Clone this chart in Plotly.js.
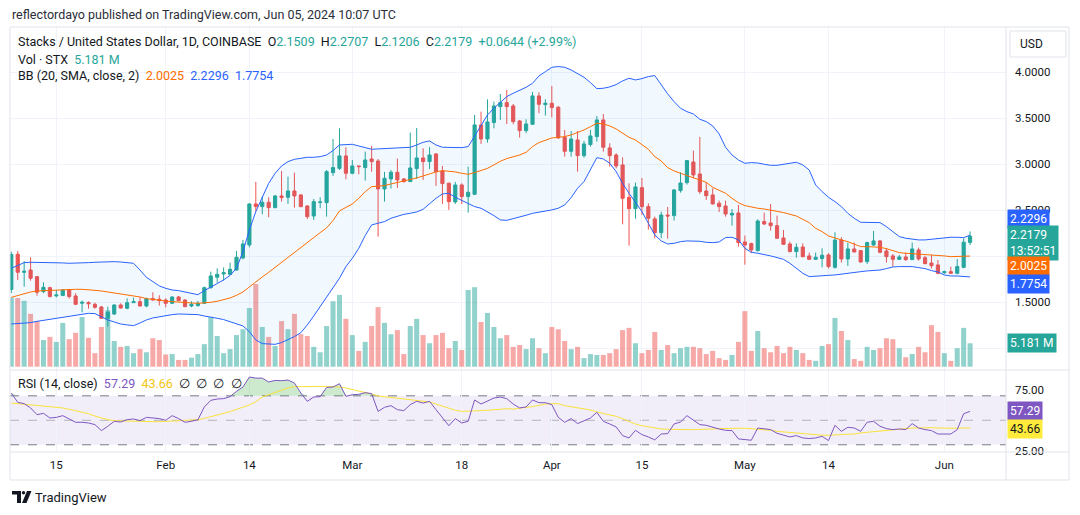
<!DOCTYPE html>
<html><head><meta charset="utf-8">
<script src="https://cdn.plot.ly/plotly-3.0.1.min.js"></script>
<style>html,body{margin:0;padding:0;background:#fff;}#chart{width:1080px;height:515px;}</style>
</head><body><div id="chart"></div>
<script>
// ---------- DATA ----------
const startDate = '2024-01-08';
const open = [1.64,2.022,1.826,1.851,1.779,1.616,1.659,1.570,1.573,1.634,
1.569,1.490,1.497,1.478,1.449,1.326,1.373,1.471,1.435,1.496,
1.507,1.460,1.540,1.533,1.525,1.489,1.558,1.525,1.460,1.464,
1.489,1.659,1.772,1.808,1.804,1.851,1.982,2.123,2.569,2.540,
2.587,2.529,2.656,2.641,2.710,2.667,2.547,2.438,2.587,2.583,
2.909,2.956,3.091,2.902,2.982,2.964,3.058,3.036,2.732,2.841,
2.913,2.841,2.812,2.953,3.069,3.029,3.112,2.928,2.794,2.591,
2.775,2.649,2.674,3.428,3.275,3.453,3.627,3.670,3.634,3.471,
3.366,3.435,3.743,3.649,3.663,3.620,3.293,3.141,3.264,3.094,
3.214,3.301,3.482,3.178,3.101,2.993,2.641,2.518,2.746,2.540,
2.406,2.257,2.449,2.442,2.714,2.801,3.025,2.895,2.710,2.667,
2.576,2.547,2.449,2.471,2.156,2.138,2.062,2.377,2.362,2.333,
2.199,2.134,2.051,2.101,2.004,1.967,1.975,2.015,1.880,2.177,
1.971,2.080,2.062,1.942,2.123,2.167,2.058,2.004,1.967,1.993,
1.964,2.069,1.985,1.927,1.906,1.822,1.833,1.815,1.880,2.1509];
const high = [2.05,2.058,1.949,1.989,1.786,1.717,1.670,1.634,1.641,1.641,
1.598,1.518,1.511,1.496,1.460,1.453,1.478,1.489,1.543,1.551,
1.554,1.551,1.609,1.576,1.543,1.565,1.569,1.533,1.511,1.515,
1.670,1.833,1.869,1.880,1.931,2.058,2.178,2.576,2.808,2.649,
2.641,2.667,2.928,2.866,2.909,2.674,2.554,2.623,2.641,2.938,
3.275,3.391,3.185,3.047,2.982,3.138,3.199,3.058,2.917,2.938,
3.062,2.851,3.344,3.395,3.174,3.188,3.123,2.982,2.801,2.808,
2.793,2.975,3.536,3.572,3.706,3.681,3.764,3.808,3.656,3.482,
3.489,3.786,3.783,3.707,3.851,3.634,3.373,3.362,3.362,3.254,
3.373,3.525,3.547,3.228,3.120,3.076,2.793,2.801,2.851,2.576,
2.431,2.485,2.536,2.732,2.913,3.047,3.149,3.297,2.801,2.739,
2.605,2.605,2.514,2.558,2.225,2.149,2.402,2.475,2.569,2.442,
2.286,2.159,2.141,2.141,2.040,2.040,2.087,2.033,2.261,2.207,
2.149,2.149,2.069,2.159,2.275,2.178,2.087,2.025,2.015,2.040,
2.149,2.094,2.004,2.015,1.960,1.844,1.888,1.971,2.196,2.2707];
const low = [1.60,1.743,1.670,1.735,1.572,1.598,1.554,1.554,1.569,1.540,
1.471,1.391,1.431,1.431,1.319,1.236,1.362,1.431,1.424,1.496,
1.453,1.446,1.518,1.464,1.446,1.482,1.511,1.446,1.446,1.453,
1.482,1.648,1.714,1.735,1.797,1.844,1.967,2.098,2.486,2.457,
2.424,2.522,2.594,2.569,2.529,2.533,2.406,2.395,2.522,2.431,
2.873,2.938,2.837,2.891,2.891,2.822,2.920,2.214,2.594,2.736,
2.743,2.801,2.808,2.841,2.830,2.949,2.765,2.569,2.504,2.569,
2.569,2.475,2.667,3.221,3.235,3.391,3.482,3.438,3.435,3.290,
3.337,3.428,3.554,3.529,3.511,3.279,3.083,3.083,2.920,3.072,
3.192,3.246,3.138,2.975,2.956,2.348,2.116,2.409,2.449,2.290,
2.196,2.196,2.192,2.388,2.692,2.779,2.848,2.678,2.612,2.562,
2.482,2.431,2.333,2.105,1.909,2.033,2.051,2.341,2.279,2.188,
2.123,2.043,1.985,1.989,1.960,1.960,1.880,1.869,1.866,1.931,
1.895,2.043,1.931,1.917,2.112,2.033,1.931,1.888,1.960,1.949,
1.960,1.953,1.913,1.869,1.804,1.808,1.808,1.804,1.870,2.1206];
const close = [2.02,1.826,1.837,1.761,1.609,1.663,1.562,1.580,1.634,1.562,
1.478,1.500,1.484,1.446,1.326,1.391,1.471,1.438,1.496,1.507,
1.460,1.540,1.525,1.518,1.489,1.558,1.518,1.453,1.478,1.489,
1.659,1.786,1.804,1.822,1.859,1.989,2.134,2.569,2.540,2.587,
2.529,2.656,2.638,2.710,2.656,2.540,2.431,2.594,2.590,2.920,
2.964,3.091,2.902,2.982,2.975,3.047,3.029,2.732,2.848,2.913,
2.830,2.812,2.960,3.069,3.029,3.101,2.920,2.790,2.594,2.775,
2.649,2.696,3.428,3.275,3.460,3.634,3.670,3.627,3.464,3.366,
3.438,3.743,3.652,3.663,3.616,3.286,3.141,3.275,3.094,3.221,
3.308,3.482,3.185,3.094,2.982,2.630,2.518,2.754,2.540,2.413,
2.257,2.449,2.438,2.721,2.797,3.040,2.884,2.703,2.659,2.569,
2.540,2.460,2.467,2.149,2.123,2.069,2.384,2.351,2.333,2.196,
2.130,2.051,2.098,1.996,1.967,1.989,2.011,1.888,2.177,1.971,
2.080,2.047,1.938,2.149,2.167,2.043,1.996,1.967,1.993,1.964,
2.080,1.971,1.920,1.898,1.815,1.833,1.815,1.888,2.1535,2.2179];
const volumeM = [15.3,15.2,14.6,11.7,10.1,5.9,6.6,5.5,9.7,6.1,
7.5,11.0,6.4,3.0,8.8,12.5,5.7,4.4,4.6,3.0,
3.9,3.2,6.3,5.9,2.7,2.8,1.5,1.5,2.0,2.8,
5.0,11.0,6.8,3.0,3.9,7.0,8.3,13.0,18.3,8.8,
6.6,4.6,10.1,8.3,11.7,7.2,6.8,4.4,3.2,9.0,
14.5,15.9,10.6,7.0,3.5,5.5,9.0,13.2,9.7,7.2,
8.1,2.8,9.0,10.6,7.0,5.2,7.0,7.5,4.1,5.7,
3.7,17.0,17.6,9.9,11.9,8.8,6.3,7.0,4.4,4.8,
3.9,6.3,4.1,3.0,8.8,8.3,5.7,3.9,4.4,1.9,
2.8,2.6,2.6,3.0,3.9,8.1,8.6,5.2,3.0,3.7,
7.7,3.7,4.8,3.0,4.1,4.4,4.4,4.1,2.8,3.5,
1.9,1.5,2.6,5.5,12.3,3.5,7.9,4.1,3.2,4.6,
3.0,4.4,3.7,3.0,1.5,1.3,4.6,5.0,10.8,7.9,
5.9,1.7,1.3,4.4,3.7,4.1,6.3,6.1,4.1,2.1,
2.8,4.4,3.2,9.2,7.7,3.0,1.3,4.1,8.6,5.181];
const bbUpper = [1.870,1.898,1.931,1.935,1.935,1.935,1.931,1.928,1.928,1.924,
1.924,1.928,1.931,1.935,1.938,1.942,1.942,1.938,1.935,1.924,
1.851,1.772,1.725,1.678,1.652,1.634,1.627,1.612,1.598,1.583,
1.627,1.663,1.703,1.743,1.793,1.870,2.051,2.286,2.486,2.649,
2.793,2.902,2.982,3.029,3.054,3.065,3.076,3.076,3.083,3.101,
3.149,3.210,3.214,3.217,3.199,3.178,3.163,3.167,3.170,3.174,
3.178,3.181,3.185,3.210,3.239,3.254,3.210,3.185,3.181,3.181,
3.181,3.192,3.308,3.428,3.536,3.609,3.674,3.736,3.772,3.801,
3.837,3.880,3.960,4.007,4.054,4.062,4.054,4.025,3.982,3.946,
3.888,3.822,3.826,3.841,3.866,3.906,3.935,3.917,3.931,3.953,
3.964,3.862,3.765,3.681,3.609,3.572,3.547,3.489,3.464,3.417,
3.330,3.185,3.101,3.047,3.011,3.018,3.014,3.000,2.989,2.989,
2.996,3.011,3.022,2.993,2.938,2.775,2.703,2.641,2.594,2.540,
2.467,2.413,2.370,2.370,2.370,2.366,2.322,2.268,2.214,2.196,
2.185,2.178,2.178,2.185,2.196,2.203,2.207,2.207,2.203,2.2296];
const bbBasis = [1.554,1.576,1.598,1.612,1.623,1.627,1.630,1.634,1.638,1.638,
1.641,1.641,1.638,1.630,1.623,1.612,1.601,1.591,1.583,1.572,
1.558,1.540,1.529,1.522,1.514,1.507,1.500,1.496,1.493,1.489,
1.493,1.500,1.511,1.525,1.547,1.576,1.612,1.667,1.725,1.775,
1.826,1.880,1.935,1.996,2.047,2.094,2.149,2.203,2.257,2.308,
2.388,2.493,2.533,2.569,2.630,2.703,2.757,2.761,2.768,2.786,
2.801,2.815,2.830,2.851,2.873,2.898,2.917,2.931,2.928,2.917,
2.902,2.891,2.909,2.931,2.956,2.993,3.033,3.062,3.080,3.101,
3.130,3.192,3.236,3.264,3.286,3.293,3.301,3.319,3.344,3.373,
3.409,3.446,3.438,3.417,3.384,3.341,3.293,3.264,3.217,3.163,
3.083,3.036,2.964,2.928,2.902,2.877,2.859,2.830,2.804,2.750,
2.721,2.685,2.630,2.583,2.551,2.533,2.522,2.514,2.504,2.489,
2.475,2.456,2.438,2.402,2.366,2.304,2.268,2.221,2.196,2.178,
2.159,2.130,2.105,2.105,2.105,2.098,2.083,2.062,2.040,2.033,
2.029,2.025,2.022,2.015,2.011,2.004,1.996,1.996,1.996,2.0025];
const bbLower = [1.264,1.268,1.272,1.279,1.293,1.304,1.315,1.326,1.337,1.351,
1.362,1.377,1.380,1.377,1.344,1.308,1.286,1.264,1.254,1.246,
1.275,1.308,1.330,1.344,1.355,1.366,1.373,1.370,1.366,1.366,
1.351,1.341,1.326,1.312,1.290,1.264,1.243,1.181,1.091,1.051,
1.043,1.043,1.062,1.091,1.127,1.170,1.254,1.351,1.453,1.554,
1.652,1.761,1.888,1.978,2.087,2.225,2.341,2.359,2.377,2.413,
2.438,2.456,2.467,2.482,2.511,2.569,2.630,2.677,2.685,2.641,
2.605,2.576,2.540,2.522,2.486,2.442,2.395,2.391,2.409,2.424,
2.446,2.467,2.478,2.489,2.504,2.522,2.558,2.638,2.739,2.812,
2.938,3.072,3.058,3.011,2.920,2.793,2.685,2.583,2.486,2.359,
2.232,2.167,2.134,2.141,2.159,2.167,2.167,2.163,2.152,2.148,
2.156,2.203,2.207,2.178,2.087,2.044,2.033,2.022,2.004,1.986,
1.967,1.924,1.870,1.815,1.779,1.786,1.793,1.793,1.797,1.804,
1.815,1.826,1.833,1.841,1.844,1.851,1.866,1.884,1.888,1.888,
1.888,1.877,1.866,1.844,1.830,1.797,1.786,1.786,1.783,1.7754];
const rsi = [72.3,64.7,63.6,60.1,54.6,55.7,51.9,52.4,53.8,51.4,
48.4,48.4,47.8,46.5,41.6,45.1,49.2,48.6,50.5,51.1,
49.7,52.4,51.9,51.4,50.0,53.8,51.4,48.4,49.2,50.5,
60.9,66.3,67.4,67.7,69.3,73.7,77.2,85.4,84.5,84.5,
81.3,82.6,82.4,82.9,80.5,72.3,65.5,69.0,69.3,76.9,
77.2,79.9,69.6,70.9,71.2,72.6,71.8,57.3,60.6,62.0,
58.7,57.9,62.8,65.5,64.1,65.5,58.7,51.9,45.6,51.4,
47.8,49.2,66.6,63.3,66.0,68.2,69.0,67.7,63.3,60.1,
60.9,66.6,64.4,64.4,62.8,52.4,48.4,51.4,47.3,49.7,
51.9,56.5,49.2,47.0,44.6,37.5,35.6,41.8,38.3,36.4,
34.0,38.8,39.1,47.0,48.6,53.8,50.5,46.5,45.9,44.3,
42.9,41.8,41.6,34.8,34.2,33.7,43.7,43.2,42.4,39.4,
37.8,36.4,37.5,35.6,35.1,35.6,36.9,33.4,45.9,41.0,
44.3,43.7,41.0,48.4,49.2,45.1,43.2,42.4,42.9,42.4,
47.3,43.7,42.4,41.6,38.8,38.8,38.8,42.4,55.4,57.29];
const rsiMA = [64.1,63.6,63.3,62.8,62.5,62.0,61.7,61.2,60.1,59.0,
57.9,56.8,55.4,53.5,51.9,50.5,49.7,49.5,49.2,49.2,
49.2,48.9,48.9,48.9,49.2,49.5,49.7,50.0,50.3,50.5,
51.6,53.0,54.1,55.4,57.1,59.0,60.6,62.5,65.2,69.0,
70.9,72.8,74.8,76.4,77.5,77.7,77.7,77.7,77.7,77.7,
77.7,77.2,76.4,75.3,74.2,73.1,71.5,69.9,69.3,68.8,
68.2,67.7,66.9,66.3,65.5,65.0,63.3,61.4,59.8,58.2,
57.3,57.3,57.6,57.9,58.2,58.7,59.5,59.5,59.2,60.1,
60.6,61.2,62.2,63.3,63.6,63.6,62.0,61.2,60.3,59.5,
58.4,56.8,55.4,54.4,53.3,51.1,48.6,47.0,45.6,44.6,
43.5,42.9,42.7,42.4,42.4,42.4,42.4,42.4,42.7,42.9,
43.2,43.5,43.5,43.5,43.5,43.2,42.9,42.4,41.8,41.0,
40.5,39.9,39.4,38.8,38.3,38.0,37.8,37.8,38.3,38.3,
38.6,38.8,39.7,40.2,41.0,41.3,41.6,42.1,42.7,43.2,
43.7,43.7,44.0,44.0,43.7,43.5,43.5,43.5,43.7,43.66];
const xTickDates = ['2024-01-15','2024-02-01','2024-02-14','2024-03-01','2024-03-18','2024-04-01','2024-04-15','2024-05-01','2024-05-14','2024-06-01'];
const xTickText = ['15','Feb','14','Mar','18','Apr','15','May','14','Jun'];
const priceTicks = [1.0,1.5,2.0,2.5,3.0,3.5,4.0];
// 1.0000 and 2.0000 are hidden behind the value tags in the reference
const priceTickText = ['','1.5000','','2.5000','3.0000','3.5000','4.0000'];

// ---------- BUILD ----------
const DAY = 864e5;
const t0 = Date.parse(startDate + 'T00:00:00Z');
const dates = open.map((_, i) => new Date(t0 + i * DAY).toISOString().slice(0, 10));
const UP = '#26a69a', DOWN = '#ef5350';
const volColors = open.map((o, i) => close[i] >= o ? 'rgba(38,166,154,0.5)' : 'rgba(239,83,80,0.5)');

const FONT = 'Liberation Sans Narrow, Roboto, Arial, sans-serif';
const ML = 10, MR = 74, MT = 27, MB = 63, W = 1080, H = 515;
const PW = W - ML - MR, PH = H - MT - MB;
const px = x => (x - ML) / PW;
const py = y => (H - MB - y) / PH;

const traces = [
  {type: 'bar', x: dates, y: volumeM, marker: {color: volColors, line: {width: 0}}, width: 0.78 * DAY, xaxis: 'x', yaxis: 'y', hoverinfo: 'skip'},
  {type: 'scatter', mode: 'lines', x: dates, y: bbUpper, line: {color: '#2962ff', width: 1}, xaxis: 'x', yaxis: 'y2'},
  {type: 'scatter', mode: 'lines', x: dates, y: bbLower, line: {color: '#2962ff', width: 1}, fill: 'tonexty', fillcolor: 'rgba(33,150,243,0.06)', xaxis: 'x', yaxis: 'y2'},
  {type: 'scatter', mode: 'lines', x: dates, y: bbBasis, line: {color: '#ff6d00', width: 1}, xaxis: 'x', yaxis: 'y2'},
  {type: 'candlestick', x: dates, open: open, high: high, low: low, close: close,
   increasing: {line: {color: UP, width: 1}, fillcolor: UP},
   decreasing: {line: {color: DOWN, width: 1}, fillcolor: DOWN},
   whiskerwidth: 0, xaxis: 'x', yaxis: 'y2'},
  // RSI overbought fill
  {type: 'scatter', mode: 'lines', x: dates, y: dates.map(() => 70), line: {width: 0, color: 'rgba(0,0,0,0)'}, xaxis: 'x', yaxis: 'y3', hoverinfo: 'skip'},
  {type: 'scatter', mode: 'lines', x: dates, y: rsi.map(v => Math.max(v, 70)), line: {width: 0, color: 'rgba(0,0,0,0)'}, fill: 'tonexty', fillcolor: 'rgba(76,175,80,0.28)', xaxis: 'x', yaxis: 'y3', hoverinfo: 'skip'},
  {type: 'scatter', mode: 'lines', x: dates, y: rsiMA, line: {color: '#fbe23a', width: 1}, xaxis: 'x', yaxis: 'y3'},
  {type: 'scatter', mode: 'lines', x: dates, y: rsi, line: {color: '#7e57c2', width: 1}, xaxis: 'x', yaxis: 'y3'}
];

function tag(text, yc, bg, fg) {
  return {xref: 'paper', yref: 'paper', x: px(1007), y: py(yc), xanchor: 'left', yanchor: 'middle',
    text: text, showarrow: false, bgcolor: bg, borderpad: 2, align: 'left',
    font: {family: FONT, size: 12, color: fg}};
}
const sp = '&nbsp;&nbsp;';
const annotations = [
  {xref: 'paper', yref: 'paper', x: px(10), y: py(15), xanchor: 'left', yanchor: 'middle', showarrow: false,
   text: 'reflectordayo published on TradingView.com, Jun 05, 2024 10:07 UTC', font: {family: FONT, size: 12.5, color: '#2a2e39'}},
  {xref: 'paper', yref: 'paper', x: px(16), y: py(42), xanchor: 'left', yanchor: 'middle', showarrow: false,
   text: 'Stacks / United States Dollar, 1D, COINBASE' + sp + 'O<span style="color:#26a69a">2.1509</span>' + sp + 'H<span style="color:#26a69a">2.2707</span>' + sp + 'L<span style="color:#26a69a">2.1206</span>' + sp + 'C<span style="color:#26a69a">2.2179</span>' + sp + '<span style="color:#26a69a">+0.0644 (+2.99%)</span>',
   font: {family: FONT, size: 12.5, color: '#131722'}},
  {xref: 'paper', yref: 'paper', x: px(16), y: py(59), xanchor: 'left', yanchor: 'middle', showarrow: false,
   text: 'Vol · STX' + sp + '<span style="color:#26a69a">5.181 M</span>', font: {family: FONT, size: 12.5, color: '#131722'}},
  {xref: 'paper', yref: 'paper', x: px(16), y: py(76), xanchor: 'left', yanchor: 'middle', showarrow: false,
   text: 'BB (20, SMA, close, 2)' + sp + '<span style="color:#ff6d00">2.0025</span>' + sp + '<span style="color:#2962ff">2.2296</span>' + sp + '<span style="color:#2962ff">1.7754</span>',
   font: {family: FONT, size: 12.5, color: '#131722'}},
  {xref: 'paper', yref: 'paper', x: px(16), y: py(383), xanchor: 'left', yanchor: 'middle', showarrow: false,
   text: 'RSI (14, close)' + sp + '<span style="color:#7e57c2">57.29</span>' + sp + '<span style="color:#f2c40f">43.66</span>' + sp + '∅' + sp + '∅' + sp + '∅' + sp + '∅',
   font: {family: FONT, size: 12.5, color: '#131722'}},
  {xref: 'paper', yref: 'paper', x: px(1018), y: py(44), xanchor: 'left', yanchor: 'middle', showarrow: false,
   text: 'USD', font: {family: FONT, size: 12, color: '#131722'}},
  tag('2.2296', 219.5, '#2962ff', '#ffffff'),
  tag('2.2179<br>13:52:51', 243, '#26a69a', '#ffffff'),
  tag('2.0025', 266, '#ff6d00', '#ffffff'),
  tag('1.7754', 284, '#2962ff', '#ffffff'),
  tag('5.181 M', 343, '#26a69a', '#ffffff'),
  tag('57.29', 411, '#7e57c2', '#ffffff'),
  tag('43.66', 428.5, '#ffeb3b', '#131722'),
  {xref: 'paper', yref: 'paper', x: px(33), y: py(497), xanchor: 'left', yanchor: 'middle', showarrow: false,
   text: 'TradingView', font: {family: FONT, size: 13, color: '#131722'}}
];

const line = (x0, y0, x1, y1, c) => ({type: 'line', xref: 'paper', yref: 'paper', x0: px(x0), y0: py(y0), x1: px(x1), y1: py(y1), line: {color: c || '#e0e3eb', width: 1}, layer: 'above'});
const shapes = [
  // RSI band
  {type: 'rect', xref: 'paper', yref: 'y3', x0: 0, x1: 1, y0: 30, y1: 70, fillcolor: 'rgba(126,87,194,0.1)', line: {width: 0}, layer: 'below'},
  {type: 'line', xref: 'paper', yref: 'y3', x0: 0, x1: 1, y0: 70, y1: 70, line: {color: '#787b86', width: 1, dash: 'dash'}, layer: 'below'},
  {type: 'line', xref: 'paper', yref: 'y3', x0: 0, x1: 1, y0: 50, y1: 50, line: {color: 'rgba(120,123,134,0.5)', width: 1, dash: 'dash'}, layer: 'below'},
  {type: 'line', xref: 'paper', yref: 'y3', x0: 0, x1: 1, y0: 30, y1: 30, line: {color: '#787b86', width: 1, dash: 'dash'}, layer: 'below'},
  // frame
  {type: 'rect', xref: 'paper', yref: 'paper', x0: px(10), y0: py(27), x1: px(1069), y1: py(480), line: {color: '#e0e3eb', width: 1}, fillcolor: 'rgba(0,0,0,0)', layer: 'above'},
  line(1006, 27, 1006, 480),
  line(10, 370, 1069, 370),
  line(10, 452, 1069, 452),
  // USD box
  {type: 'rect', xref: 'paper', yref: 'paper', x0: px(1010), y0: py(31), x1: px(1066), y1: py(57), line: {color: '#e0e3eb', width: 1}, fillcolor: '#ffffff', layer: 'above'},
  // TradingView logo
  {type: 'path', xref: 'paper', yref: 'paper', fillcolor: '#131722', line: {width: 0}, layer: 'above',
   path: `M ${px(12)} ${py(491)} L ${px(21)} ${py(491)} L ${px(21)} ${py(503)} L ${px(17)} ${py(503)} L ${px(17)} ${py(494.5)} L ${px(12)} ${py(494.5)} Z`},
  {type: 'circle', xref: 'paper', yref: 'paper', fillcolor: '#131722', line: {width: 0}, layer: 'above',
   x0: px(21.8), x1: px(25.2), y0: py(491), y1: py(494.4)},
  {type: 'path', xref: 'paper', yref: 'paper', fillcolor: '#131722', line: {width: 0}, layer: 'above',
   path: `M ${px(27)} ${py(491)} L ${px(31.5)} ${py(491)} L ${px(26.5)} ${py(503)} L ${px(22)} ${py(503)} Z`}
];

const layout = {
  width: W, height: H, margin: {l: ML, r: MR, t: MT, b: MB, pad: 0},
  paper_bgcolor: '#ffffff', plot_bgcolor: '#ffffff', showlegend: false,
  font: {family: FONT, size: 11.5, color: '#131722'},
  boxgap: 0.3,
  xaxis: {type: 'date', anchor: 'y3', domain: [0, 1],
    range: ['2024-01-07 19:12', '2024-06-10 13:55'],
    tickmode: 'array', tickvals: xTickDates, ticktext: xTickText,
    showgrid: true, gridcolor: '#f0f3fa', gridwidth: 1, zeroline: false, showline: false,
    ticks: '', ticklabelstandoff: 4, tickfont: {family: FONT, size: 11.5, color: '#131722'},
    rangeslider: {visible: false}, fixedrange: true},
  yaxis: {domain: [0.1929, 1], range: [-0.73, 75.2], visible: false, showgrid: false, zeroline: false, fixedrange: true},
  yaxis2: {overlaying: 'y', side: 'right', anchor: 'x', range: [0.764, 4.492],
    tickmode: 'array', tickvals: priceTicks, ticktext: priceTickText,
    showgrid: true, gridcolor: '#f0f3fa', zeroline: false, showline: false, ticks: '',
    ticklabelstandoff: 8, tickfont: {family: FONT, size: 11.5, color: '#131722'}, fixedrange: true},
  yaxis3: {domain: [0, 0.1929], side: 'right', anchor: 'x', range: [24.1, 91.1],
    tickmode: 'array', tickvals: [25, 75], ticktext: ['25.00', '75.00'],
    showgrid: false, zeroline: false, showline: false, ticks: '',
    ticklabelstandoff: 8, tickfont: {family: FONT, size: 11.5, color: '#131722'}, fixedrange: true},
  annotations: annotations,
  shapes: shapes
};

Plotly.newPlot('chart', traces, layout, {displayModeBar: false, staticPlot: true});
</script>
</body></html>
